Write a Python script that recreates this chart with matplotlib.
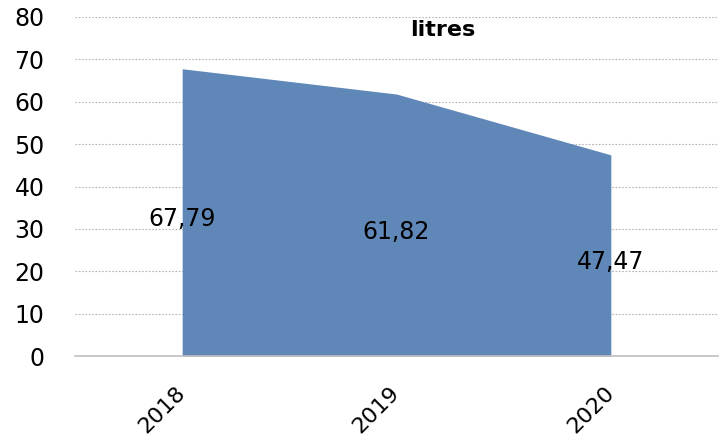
import matplotlib
matplotlib.use("Agg")
import matplotlib.pyplot as plt

years = ["2018", "2019", "2020"]
values = [67.79, 61.82, 47.47]
value_labels = ["67,79", "61,82", "47,47"]
yticks = [0, 10, 20, 30, 40, 50, 60, 70, 80]
title = "litres"

plt.rcParams['font.family'] = ['DejaVu Sans']
fig = plt.figure(figsize=(7.25, 4.47), dpi=100)
ax = fig.add_axes([75/725, 91/447, 643/725, (356-17)/447])

x = list(range(len(years)))
ax.fill_between(x, 0, values, color="#5F87B8", linewidth=0, zorder=2)

ax.set_xlim(-0.5, len(years) - 0.5)
ax.set_ylim(0, 80)
ax.set_yticks(yticks)
ax.set_yticklabels([str(t) for t in yticks], fontsize=17)
ax.tick_params(axis='y', length=0, pad=22)
ax.yaxis.grid(True, linestyle=(0, (1.5, 1.5)), color="#B5B5B5", linewidth=0.8, zorder=1)
ax.set_axisbelow(True)

ax.set_xticks(x)
ax.set_xticklabels(years, fontsize=16, rotation=45, ha='right', va='center',
                   rotation_mode='anchor')
ax.tick_params(axis='x', length=0, pad=24)

for s in ['left', 'right', 'top']:
    ax.spines[s].set_visible(False)
ax.spines['bottom'].set_color("#BFBFBF")
ax.spines['bottom'].set_linewidth(1.2)

for xi, v, lab in zip(x, values, value_labels):
    ax.annotate(lab, (xi, v / 2), xytext=(0, -5), textcoords='offset points',
                ha='center', va='center', fontsize=17, zorder=3)

fig.text(443/725, 1 - 30/447, title, ha='center', va='center',
         fontsize=16, fontweight='bold')

fig.savefig("out.png", dpi=100)
